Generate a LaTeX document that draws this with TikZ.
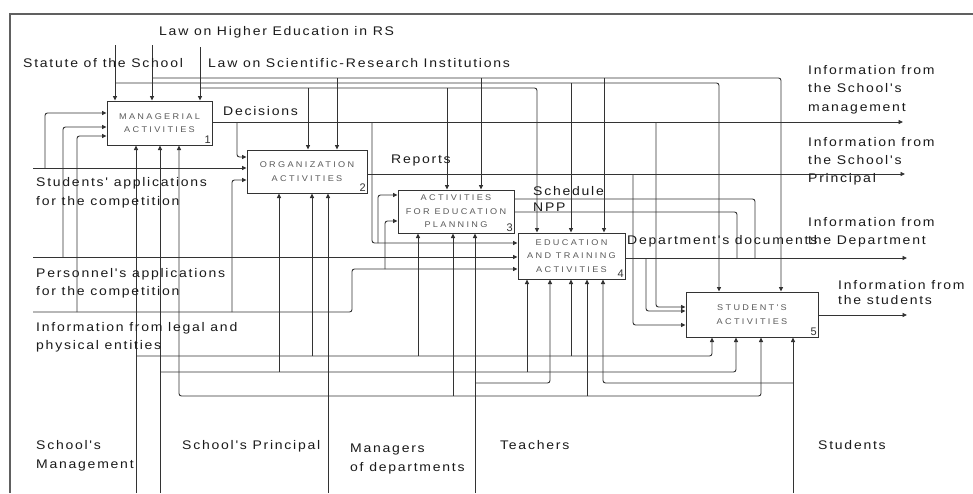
\documentclass[tikz,border=0pt]{standalone}
\usepackage{fontspec}
\setmainfont{Liberation Sans}
\newfontfamily\lblfont[FakeStretch=1.12,LetterSpace=14]{Liberation Sans}
\newfontfamily\boxfont[FakeStretch=1.1,LetterSpace=28]{Liberation Sans}
\usetikzlibrary{arrows.meta}
\definecolor{lc}{HTML}{333333}
\definecolor{tc}{HTML}{1A1A1A}
\definecolor{bc}{HTML}{5A5A5A}
\definecolor{fc}{HTML}{606060}
\begin{document}
\begin{tikzpicture}[x=1pt,y=-1pt,
  ln/.style={draw=lc, line width=0.9pt, rounded corners=2.5pt},
  arr/.style={ln, -{Triangle[length=4.5pt,width=4pt]}},
  fn/.style={draw=lc, line width=1pt, fill=white, inner sep=0pt, align=center,
    text=bc, font=\boxfont\fontsize{8.3}{13.5}\selectfont},
  num/.style={anchor=south east, inner sep=1.5pt, text=lc, font=\fontsize{11}{11}\selectfont},
  lbl/.style={anchor=base west, inner sep=0pt, text=tc, font=\lblfont\fontsize{12.5}{14}\selectfont},
  frame/.style={draw=fc, line width=2pt},
]
\useasboundingbox (0,0) rectangle (973,493);

% sheet border
\draw[frame] (10,493) -- (10,14) -- (973,14);

% activity boxes
\node[fn, minimum width=105pt, minimum height=44pt] (b1) at (159.5,123) {MANAGERIAL\\ACTIVITIES};
\node[fn, minimum width=120pt, minimum height=43pt] (b2) at (307,171.5) {ORGANIZATION\\ACTIVITIES};
\node[fn, minimum width=116pt, minimum height=43pt] (b3) at (456,211.5) {ACTIVITIES\\FOR EDUCATION\\PLANNING};
\node[fn, minimum width=107pt, minimum height=46pt] (b4) at (571.5,256) {EDUCATION\\AND TRAINING\\ACTIVITIES};
\node[fn, minimum width=132pt, minimum height=45pt] (b5) at (752,314.5) {STUDENT'S\\ACTIVITIES};
\node[num] (n1) at (b1.south east) {1};
\node[num] (n2) at (b2.south east) {2};
\node[num] (n3) at (b3.south east) {3};
\node[num] (n4) at (b4.south east) {4};
\node[num] (n5) at (b5.south east) {5};

% free ends of the arrows
\coordinate (cStatute) at (115,45);
\coordinate (cLawHE) at (152,45);
\coordinate (cLawSR) at (200,47);
\coordinate (iStud) at (33,168);
\coordinate (iPers) at (33,257);
\coordinate (iLegal) at (33,312);
\coordinate (mMgmt) at (136,493);
\coordinate (mPrin) at (160,493);
\coordinate (mMgrs) at (328,493);
\coordinate (mTeach) at (475,493);
\coordinate (mStud) at (793,493);
\coordinate (oMgmt) at (903,122);
\coordinate (oPrin) at (905,174);
\coordinate (oDept) at (907,258);
\coordinate (oStud) at (907,315);

% controls
\draw[arr] (cStatute) -- (cStatute |- b1.north);
\draw[arr] (cLawHE) -- (cLawHE |- b1.north);
\draw[arr] (cLawSR) -- (cLawSR |- b1.north);
\draw[arr] (115,83) -| (719,0 |- b5.north);
\draw[arr] (152,78) -| (781,0 |- b5.north);
\draw[arr] (200,88) -| (537,0 |- b4.north);
\draw[arr] (308,88) -- (308,0 |- b2.north);
\draw[arr] (337,78) -- (337,0 |- b2.north);
\draw[arr] (447,88) -- (447,0 |- b3.north);
\draw[arr] (481,78) -- (481,0 |- b3.north);
\draw[arr] (571,83) -- (571,0 |- b4.north);
\draw[arr] (604,78) -- (604,0 |- b4.north);

% inputs from the left
\draw[arr] (iStud) -- (iStud -| b2.west);
\draw[arr] (45,168) |- (b1.west |- 0,113);
\draw[arr] (iPers) -- (iPers -| b4.west);
\draw[arr] (63,257) |- (b1.west |- 0,127);
\draw[arr] (iLegal) -| (352,269) -- (b4.west |- 0,269);
\draw[arr] (77,312) |- (b1.west |- 0,136);
\draw[arr] (232,312) |- (b2.west |- 0,180);
\draw[arr] (385,269) |- (b3.west |- 0,221);

% decisions
\draw[arr] (b1.east |- 0,122) -- (oMgmt);
\draw[arr] (237,122) |- (b2.west |- 0,157);
\draw[arr] (372,122) |- (b4.west |- 0,243);
\draw[arr] (378,243) |- (b3.west |- 0,195);
\draw[arr] (656,122) |- (b5.west |- 0,307);

% reports
\draw[arr] (b2.east |- oPrin) -- (oPrin);
\draw[arr] (633,174) |- (b5.west |- 0,325);

% schedule and NPP
\draw[ln] (b3.east |- 0,199) -| (755,258);
\draw[ln] (b3.east |- 0,212) -| (737,258);

% department's documents
\draw[arr] (b4.east |- oDept) -- (oDept);
\draw[arr] (646,258) |- (b5.west |- 0,311);

% information from the students
\draw[arr] (b5.east |- oStud) -- (oStud);

% mechanisms
\draw[arr] (mMgmt) -- (mMgmt |- b1.south);
\draw[arr] (mPrin) -- (mPrin |- b1.south);
\draw[arr] (mMgrs) -- (mMgrs |- b2.south);
\draw[arr] (mTeach) -- (mTeach |- b3.south);
\draw[arr] (mStud) -- (mStud |- b5.south);
\draw[arr] (136,356) -| (712,0 |- b5.south);
\draw[arr] (312,356) -- (312,0 |- b2.south);
\draw[arr] (418,356) -- (418,0 |- b3.south);
\draw[arr] (571,356) -- (571,0 |- b4.south);
\draw[arr] (160,372) -| (736,0 |- b5.south);
\draw[arr] (279,372) -- (279,0 |- b2.south);
\draw[arr] (527,372) -- (527,0 |- b4.south);
\draw[arr] (328,396) -| (179,0 |- b1.south);
\draw[arr] (328,396) -| (761,0 |- b5.south);
\draw[arr] (453,396) -- (453,0 |- b3.south);
\draw[arr] (587,396) -- (587,0 |- b4.south);
\draw[arr] (475,383) -| (550,0 |- b4.south);
\draw[arr] (793,383) -| (603,0 |- b4.south);

% labels
\node[lbl] (tLawHE) at (159,35) {Law on Higher Education in RS};
\node[lbl] (tStatute) at (23,67) {Statute of the School};
\node[lbl] (tLawSR) at (208,67) {Law on Scientific-Research Institutions};
\node[lbl] (tDecisions) at (223,115) {Decisions};
\node[lbl] (tReports) at (391,163) {Reports};
\node[lbl] (tSchedule) at (533,195) {Schedule};
\node[lbl] (tNPP) at (533,211) {NPP};
\node[lbl] (tDeptDocs) at (627,244) {Department's documents};

\node[lbl] (tOa1) at (808,74) {Information from};
\node[lbl] (tOa2) at (808,92) {the School's};
\node[lbl] (tOa3) at (808,111) {management};
\node[lbl] (tOb1) at (808,146) {Information from};
\node[lbl] (tOb2) at (808,164) {the School's};
\node[lbl] (tOb3) at (808,182) {Principal};
\node[lbl] (tOc1) at (808,226) {Information from};
\node[lbl] (tOc2) at (808,244) {the Department};
\node[lbl] (tOd1) at (838,289) {Information from};
\node[lbl] (tOd2) at (838,304) {the students};

\node[lbl] (tIa1) at (36,186) {Students' applications};
\node[lbl] (tIa2) at (36,205) {for the competition};
\node[lbl] (tIb1) at (36,277) {Personnel's applications};
\node[lbl] (tIb2) at (36,295) {for the competition};
\node[lbl] (tIc1) at (36,331) {Information from legal and};
\node[lbl] (tIc2) at (36,349) {physical entities};

\node[lbl] (tMa1) at (36,449) {School's};
\node[lbl] (tMa2) at (36,468) {Management};
\node[lbl] (tMb) at (182,449) {School's Principal};
\node[lbl] (tMc1) at (350,452) {Managers};
\node[lbl] (tMc2) at (350,471) {of departments};
\node[lbl] (tMd) at (500,449) {Teachers};
\node[lbl] (tMe) at (818,449) {Students};
\end{tikzpicture}
\end{document}
